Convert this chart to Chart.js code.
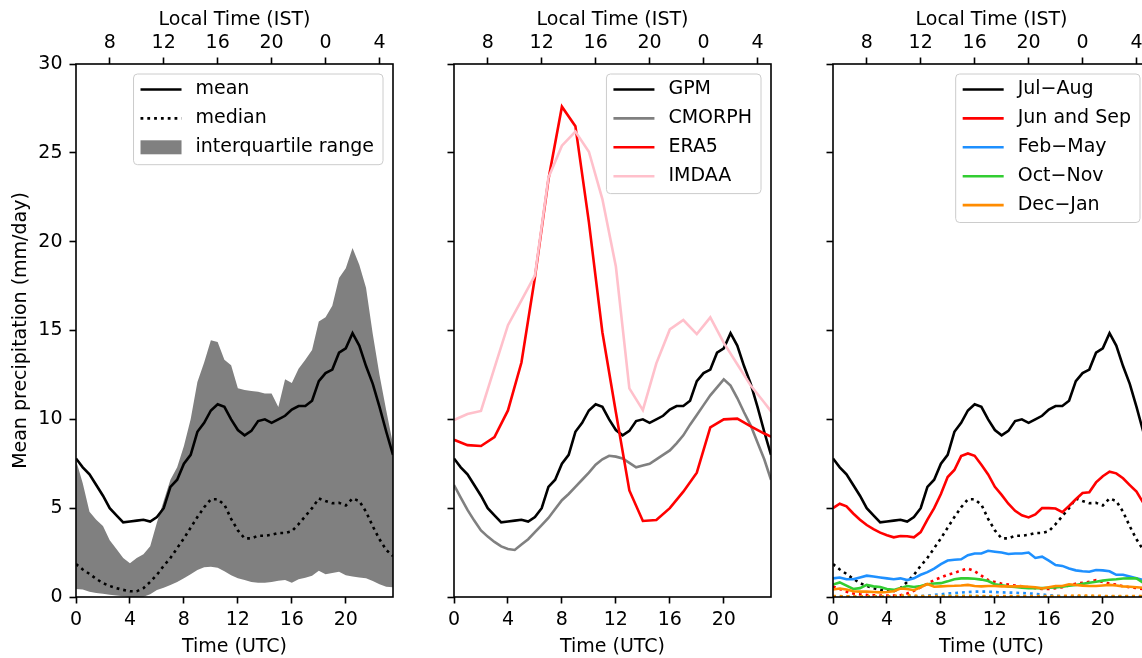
<!DOCTYPE html>
<html>
<head>
  <meta charset="utf-8">
  <script src="https://cdn.jsdelivr.net/npm/chart.js@4.4.0/dist/chart.umd.min.js"></script>
  <style>
    html, body { margin: 0; padding: 0; background: #fff; overflow: hidden; }
    #wrap { position: relative; width: 1142px; height: 658px; overflow: hidden; }
    canvas { position: absolute; top: 0; }
  </style>
</head>
<body>
  <div id="wrap">
    <canvas id="panel1" width="420" height="658" style="left:0px"></canvas>
    <canvas id="panel2" width="380" height="658" style="left:420px"></canvas>
    <canvas id="panel3" width="380" height="658" style="left:800px"></canvas>
  </div>

  <script>
    // half-hourly UTC times and hourly reanalysis times
    var utcHalf = [0, 0.5, 1, 1.5, 2, 2.5, 3, 3.5, 4, 4.5, 5, 5.5, 6, 6.5, 7, 7.5, 8, 8.5, 9, 9.5, 10, 10.5, 11, 11.5,
      12, 12.5, 13, 13.5, 14, 14.5, 15, 15.5, 16, 16.5, 17, 17.5, 18, 18.5, 19, 19.5, 20, 20.5, 21, 21.5, 22, 22.5, 23, 23.5];
    var utcHourly = [0, 1, 2, 3, 4, 5, 6, 7, 8, 9, 10, 11, 12, 13, 14, 15, 16, 17, 18, 19, 20, 21, 22, 23, 24];

    // tick labels
    var utcTicks = [0, 4, 8, 12, 16, 20];
    var istTicks = [8, 12, 16, 20, 0, 4];
    var istOffset = 5.5;
    var yTicks = [0, 5, 10, 15, 20, 25, 30];

    // GPM (Jul-Aug) statistics
    var gpmMean = [7.8, 7.3, 6.9, 6.3, 5.7, 5.0, 4.6, 4.2, 4.25, 4.3, 4.35, 4.25, 4.5, 5.0, 6.2, 6.6, 7.5, 8.0, 9.3, 9.8, 10.5, 10.85, 10.7, 10.0,
      9.4, 9.1, 9.35, 9.9, 10.0, 9.8, 10.0, 10.2, 10.55, 10.75, 10.75, 11.05, 12.15, 12.6, 12.8, 13.75, 14.0, 14.85, 14.15, 13.0, 12.0, 10.7, 9.3, 8.0];
    var gpmMedian = [1.85, 1.55, 1.3, 1.02, 0.78, 0.62, 0.5, 0.4, 0.32, 0.32, 0.5, 0.85, 1.25, 1.75, 2.2, 2.75, 3.3, 3.9, 4.5, 5.05, 5.5, 5.5, 5.2, 4.4,
      3.75, 3.3, 3.3, 3.45, 3.45, 3.5, 3.6, 3.6, 3.7, 4.1, 4.55, 5.0, 5.55, 5.4, 5.28, 5.3, 5.15, 5.55, 5.4, 4.8, 3.98, 3.25, 2.65, 2.3];
    var iqrLow = [0.45, 0.42, 0.3, 0.22, 0.18, 0.12, 0.08, 0.04, 0.0, 0.0, 0.02, 0.15, 0.4, 0.52, 0.68, 0.85, 1.05, 1.28, 1.52, 1.68, 1.7, 1.65, 1.45, 1.22,
      1.05, 0.95, 0.85, 0.8, 0.8, 0.85, 0.92, 0.96, 0.8, 1.0, 1.08, 1.2, 1.48, 1.28, 1.35, 1.42, 1.22, 1.15, 1.1, 1.05, 0.9, 0.72, 0.58, 0.55];
    var iqrHigh = [7.7, 6.4, 4.8, 4.35, 4.0, 3.2, 2.7, 2.2, 1.9, 2.2, 2.4, 2.85, 4.2, 5.4, 6.6, 7.3, 8.5, 10.0, 12.1, 13.2, 14.45, 14.35, 13.35, 13.05,
      11.75, 11.65, 11.6, 11.55, 11.45, 11.45, 10.7, 12.25, 12.05, 12.85, 13.35, 13.9, 15.5, 15.75, 16.4, 17.95, 18.5, 19.65, 18.7, 17.4, 14.8, 12.5, 10.5, 8.6];

    // other datasets
    var cmorph = [6.3, 5.6, 4.9, 4.3, 3.75, 3.4, 3.1, 2.85, 2.7, 2.65, 2.95, 3.25, 3.65, 4.05, 4.45, 4.95, 5.45, 5.8, 6.2, 6.6, 7.0, 7.45, 7.75, 7.95,
      7.9, 7.8, 7.55, 7.3, 7.4, 7.5, 7.75, 8.0, 8.25, 8.65, 9.1, 9.7, 10.25, 10.8, 11.35, 11.8, 12.25, 11.9, 11.2, 10.4, 9.65, 8.7, 7.75, 6.6];
    var era5 = [8.85, 8.55, 8.5, 9.0, 10.5, 13.2, 18.0, 23.5, 27.6, 26.5, 21.1, 14.9, 10.4, 6.0, 4.28, 4.33, 5.0, 5.93, 7.0, 9.55, 10.0, 10.04, 9.6, 9.2, 8.85];
    var imdaa = [9.96, 10.3, 10.47, 12.9, 15.3, 16.7, 18.1, 23.6, 25.4, 26.2, 25.06, 22.4, 18.6, 11.74, 10.52, 13.15, 15.06, 15.59, 14.8, 15.74, 14.3, 13.1, 11.9, 10.95, 9.96];

    // seasons (GPM)
    var junSep = [5.0, 5.25, 5.1, 4.7, 4.35, 4.05, 3.82, 3.62, 3.48, 3.36, 3.43, 3.42, 3.36, 3.65, 4.35, 5.0, 5.8, 6.75, 7.15, 7.93, 8.08, 7.95, 7.45, 6.9,
      6.2, 5.75, 5.25, 4.85, 4.6, 4.48, 4.65, 5.0, 5.0, 4.98, 4.77, 5.12, 5.5, 5.85, 5.9, 6.45, 6.8, 7.05, 6.96, 6.68, 6.3, 5.93, 5.3, 4.8];
    var junSepMedian = [0.6, 0.45, 0.3, 0.2, 0.15, 0.12, 0.1, 0.08, 0.08, 0.08, 0.1, 0.2, 0.35, 0.55, 0.75, 0.95, 1.1, 1.25, 1.35, 1.5, 1.6, 1.45, 1.2, 0.95,
      0.85, 0.75, 0.7, 0.65, 0.6, 0.55, 0.5, 0.45, 0.45, 0.5, 0.55, 0.65, 0.75, 0.8, 0.85, 0.95, 0.85, 0.75, 0.7, 0.6, 0.55, 0.5, 0.45, 0.4];
    var febMay = [1.05, 1.1, 1.0, 1.0, 1.1, 1.2, 1.15, 1.1, 1.05, 1.0, 1.05, 0.95, 1.05, 1.25, 1.4, 1.6, 1.85, 2.05, 2.1, 2.12, 2.35, 2.45, 2.45, 2.6,
      2.55, 2.5, 2.42, 2.45, 2.45, 2.5, 2.2, 2.27, 2.05, 1.8, 1.75, 1.6, 1.5, 1.45, 1.42, 1.52, 1.5, 1.45, 1.25, 1.25, 1.15, 1.05, 0.95, 0.9];
    var febMayMedian = [0.02, 0.02, 0.02, 0.02, 0.02, 0.02, 0.02, 0.02, 0.02, 0.02, 0.02, 0.02, 0.02, 0.05, 0.08, 0.12, 0.15, 0.2, 0.22, 0.25, 0.28, 0.3, 0.3, 0.3,
      0.28, 0.26, 0.25, 0.24, 0.22, 0.2, 0.18, 0.14, 0.1, 0.07, 0.05, 0.03, 0.03, 0.03, 0.03, 0.03, 0.03, 0.03, 0.03, 0.03, 0.03, 0.03, 0.03, 0.03];
    var octNov = [0.7, 0.82, 0.64, 0.45, 0.5, 0.68, 0.6, 0.56, 0.45, 0.4, 0.5, 0.62, 0.56, 0.62, 0.72, 0.76, 0.78, 0.88, 1.0, 1.05, 1.05, 1.03, 0.98, 0.9,
      0.72, 0.66, 0.6, 0.56, 0.52, 0.5, 0.5, 0.5, 0.52, 0.54, 0.58, 0.64, 0.68, 0.74, 0.8, 0.86, 0.92, 0.97, 1.0, 1.04, 1.05, 1.05, 0.8, 0.72];
    var octNovMedian = [0.03, 0.03, 0.02, 0.02, 0.02, 0.02, 0.02, 0.02, 0.02, 0.02, 0.02, 0.02, 0.02, 0.03, 0.04, 0.04, 0.05, 0.05, 0.05, 0.05, 0.05, 0.05, 0.04, 0.04,
      0.04, 0.03, 0.03, 0.03, 0.03, 0.03, 0.03, 0.03, 0.03, 0.03, 0.03, 0.03, 0.03, 0.03, 0.03, 0.03, 0.03, 0.03, 0.03, 0.03, 0.03, 0.03, 0.03, 0.03];
    var decJan = [0.42, 0.48, 0.42, 0.32, 0.3, 0.3, 0.28, 0.26, 0.28, 0.32, 0.48, 0.45, 0.38, 0.55, 0.73, 0.58, 0.6, 0.62, 0.63, 0.65, 0.68, 0.62, 0.6, 0.62,
      0.62, 0.6, 0.6, 0.6, 0.6, 0.58, 0.55, 0.48, 0.55, 0.62, 0.62, 0.72, 0.68, 0.64, 0.62, 0.62, 0.65, 0.68, 0.65, 0.6, 0.58, 0.55, 0.52, 0.5];
    var decJanMedian = [0.05, 0.05, 0.04, 0.04, 0.04, 0.04, 0.04, 0.04, 0.04, 0.05, 0.08, 0.1, 0.08, 0.06, 0.06, 0.06, 0.06, 0.06, 0.06, 0.06, 0.06, 0.06, 0.06, 0.06,
      0.06, 0.06, 0.06, 0.06, 0.06, 0.06, 0.06, 0.06, 0.06, 0.06, 0.06, 0.07, 0.08, 0.09, 0.08, 0.07, 0.06, 0.06, 0.06, 0.06, 0.06, 0.05, 0.05, 0.05];

    var FONT = { family: "'DejaVu Sans', sans-serif", size: 19 };
    var FONT_CSS = "19px 'DejaVu Sans', sans-serif";
    var LW = 2.6;
    var DOT = [2.8, 4.0];

    Chart.defaults.font.family = FONT.family;
    Chart.defaults.font.size = FONT.size;
    Chart.defaults.color = '#000';

    function pts(xs, ys) {
      return ys.map(function (v, i) { return { x: xs[i], y: v }; });
    }

    function line(label, xs, ys, color, dash) {
      return {
        label: label, data: pts(xs, ys), borderColor: color, borderWidth: LW,
        borderDash: dash || [], pointRadius: 0, tension: 0, fill: false
      };
    }

    function istLabel(v) {
      for (var i = 0; i < istTicks.length; i++) {
        if (Math.abs(((istTicks[i] - istOffset + 24) % 24) - v) < 0.01) return String(istTicks[i]);
      }
      return '';
    }

    // box around the plot area, like matplotlib spines
    var frame = {
      id: 'frame',
      afterDatasetsDraw: function (chart) {
        var a = chart.chartArea, ctx = chart.ctx;
        ctx.save();
        ctx.strokeStyle = '#000';
        ctx.lineWidth = 1.6;
        ctx.strokeRect(a.left, a.top, a.right - a.left, a.bottom - a.top);
        ctx.restore();
      }
    };

    // legend drawn inside the plot, top right
    function makeLegend(items) {
      return {
        id: 'boxLegend',
        afterDraw: function (chart) {
          var ctx = chart.ctx, a = chart.chartArea;
          ctx.save();
          ctx.font = FONT_CSS;
          var textW = Math.max.apply(null, items.map(function (it) { return ctx.measureText(it.text).width; }));
          var rowH = 28.9;
          var w = 62 + textW + 9;
          var h = items.length * rowH + 4;
          var x = a.right - 10 - w, y = a.top + 10;
          ctx.beginPath();
          ctx.roundRect(x, y, w, h, 4);
          ctx.fillStyle = 'rgba(255,255,255,0.8)';
          ctx.fill();
          ctx.strokeStyle = '#cccccc';
          ctx.lineWidth = 1;
          ctx.stroke();
          items.forEach(function (it, i) {
            var cy = y + 15.5 + i * rowH;
            if (it.fill) {
              ctx.fillStyle = it.color;
              ctx.fillRect(x + 7, cy - 7, 41, 14);
            } else {
              ctx.beginPath();
              ctx.setLineDash(it.dash || []);
              ctx.strokeStyle = it.color;
              ctx.lineWidth = LW;
              ctx.moveTo(x + 7, cy);
              ctx.lineTo(x + 48, cy);
              ctx.stroke();
              ctx.setLineDash([]);
            }
            ctx.fillStyle = '#000';
            ctx.textBaseline = 'middle';
            ctx.textAlign = 'left';
            ctx.fillText(it.text, x + 62, cy);
          });
          ctx.restore();
        }
      };
    }

    function scalesFor(yWidth, showY) {
      var tickGrid = { drawOnChartArea: false, drawTicks: true, tickLength: 6.5, tickWidth: 1.6, tickColor: '#000' };
      return {
        x: {
          type: 'linear', position: 'bottom', min: 0, max: 23.5,
          afterBuildTicks: function (s) { s.ticks = utcTicks.map(function (v) { return { value: v }; }); },
          afterFit: function (s) { s.height = 61; },
          ticks: { font: FONT, color: '#000', padding: 5, maxRotation: 0, autoSkip: false },
          grid: tickGrid, border: { display: false },
          title: { display: true, text: 'Time (UTC)', font: FONT, color: '#000', padding: { top: 0, bottom: 0 } }
        },
        xTop: {
          type: 'linear', position: 'top', min: 0, max: 23.5,
          afterBuildTicks: function (s) {
            s.ticks = istTicks.map(function (h) { return { value: (h - istOffset + 24) % 24 }; });
          },
          afterFit: function (s) { s.height = 64; },
          ticks: { font: FONT, color: '#000', padding: 3.5, maxRotation: 0, autoSkip: false, callback: function (v) { return istLabel(v); } },
          grid: tickGrid, border: { display: false },
          title: { display: true, text: 'Local Time (IST)', font: FONT, color: '#000', padding: { top: 9, bottom: 0 } }
        },
        y: {
          type: 'linear', position: 'left', min: 0, max: 30,
          afterBuildTicks: function (s) { s.ticks = yTicks.map(function (v) { return { value: v }; }); },
          afterFit: function (s) { s.width = yWidth; },
          ticks: { display: showY, font: FONT, color: '#000', padding: 7 },
          grid: tickGrid, border: { display: false },
          title: { display: showY, text: 'Mean precipitation (mm/day)', font: FONT, color: '#000', padding: { top: 10, bottom: 0 } }
        }
      };
    }

    function makeChart(id, datasets, legendItems, yWidth, showY, padRight) {
      return new Chart(document.getElementById(id), {
        type: 'line',
        data: { datasets: datasets },
        options: {
          responsive: false,
          animation: false,
          events: [],
          layout: { padding: { left: 0, right: padRight, top: 0, bottom: 0 } },
          plugins: { legend: { display: false }, tooltip: { enabled: false } },
          scales: scalesFor(yWidth, showY)
        },
        plugins: [frame, makeLegend(legendItems)]
      });
    }

    // panel 1: GPM mean, median and interquartile range
    var iqrUpperSet = line('iqr high', utcHalf, iqrHigh, 'rgba(0,0,0,0)');
    iqrUpperSet.fill = '+1';
    iqrUpperSet.backgroundColor = '#808080';
    var iqrLowerSet = line('iqr low', utcHalf, iqrLow, 'rgba(0,0,0,0)');
    makeChart('panel1', [
      line('mean', utcHalf, gpmMean, '#000'),
      line('median', utcHalf, gpmMedian, '#000', DOT),
      iqrUpperSet,
      iqrLowerSet
    ], [
      { text: 'mean', color: '#000' },
      { text: 'median', color: '#000', dash: DOT },
      { text: 'interquartile range', color: '#808080', fill: true }
    ], 76, true, 27);

    // panel 2: datasets compared
    makeChart('panel2', [
      line('IMDAA', utcHourly, imdaa, 'pink'),
      line('ERA5', utcHourly, era5, 'red'),
      line('CMORPH', utcHalf, cmorph, 'gray'),
      line('GPM', utcHalf, gpmMean, '#000')
    ], [
      { text: 'GPM', color: '#000' },
      { text: 'CMORPH', color: 'gray' },
      { text: 'ERA5', color: 'red' },
      { text: 'IMDAA', color: 'pink' }
    ], 34, false, 29);

    // panel 3: seasons
    makeChart('panel3', [
      line('Dec-Jan median', utcHalf, decJanMedian, 'darkorange', DOT),
      line('Dec\u2212Jan', utcHalf, decJan, 'darkorange'),
      line('Oct-Nov median', utcHalf, octNovMedian, 'limegreen', DOT),
      line('Oct\u2212Nov', utcHalf, octNov, 'limegreen'),
      line('Feb-May median', utcHalf, febMayMedian, 'dodgerblue', DOT),
      line('Feb\u2212May', utcHalf, febMay, 'dodgerblue'),
      line('Jun and Sep median', utcHalf, junSepMedian, 'red', DOT),
      line('Jun and Sep', utcHalf, junSep, 'red'),
      line('Jul-Aug median', utcHalf, gpmMedian, '#000', DOT),
      line('Jul\u2212Aug', utcHalf, gpmMean, '#000')
    ], [
      { text: 'Jul\u2212Aug', color: '#000' },
      { text: 'Jun and Sep', color: 'red' },
      { text: 'Feb\u2212May', color: 'dodgerblue' },
      { text: 'Oct\u2212Nov', color: 'limegreen' },
      { text: 'Dec\u2212Jan', color: 'darkorange' }
    ], 33, false, 30);
  </script>
</body>
</html>
